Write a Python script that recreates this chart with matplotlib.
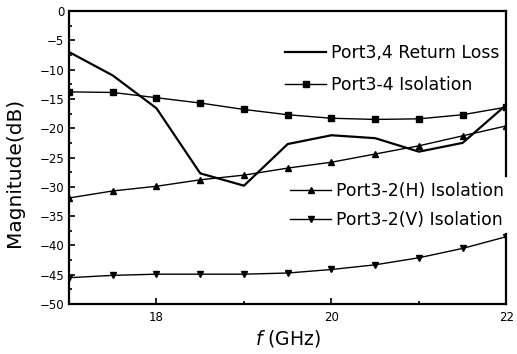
import matplotlib
matplotlib.use("Agg")
import matplotlib.pyplot as plt
from matplotlib.ticker import MultipleLocator

plt.rcParams['font.family'] = ['DejaVu Sans']
plt.rcParams['mathtext.fontset'] = 'dejavusans'

freq = [17.0, 17.5, 18.0, 18.5, 19.0, 19.5, 20.0, 20.5, 21.0, 21.5, 22.0]
return_loss = [-7.0, -11.0, -16.6, -27.7, -29.8, -22.7, -21.2, -21.7, -24.0, -22.5, -16.0]
iso_34 = [-13.8, -13.9, -14.8, -15.7, -16.8, -17.7, -18.3, -18.5, -18.4, -17.7, -16.4]
iso_32h = [-31.9, -30.7, -29.9, -28.8, -28.0, -26.8, -25.8, -24.4, -23.0, -21.3, -19.6]
iso_32v = [-45.5, -45.1, -44.9, -44.9, -44.9, -44.7, -44.1, -43.3, -42.1, -40.5, -38.5]

fig = plt.figure(figsize=(5.17, 3.54), dpi=100)
ax = fig.add_axes([0.1335, 0.141, 0.846, 0.828])

l1, = ax.plot(freq, return_loss, color='black', lw=1.6, label='Port3,4 Return Loss')
l2, = ax.plot(freq, iso_34, color='black', lw=1.0, marker='s', ms=4, label='Port3-4 Isolation')
l3, = ax.plot(freq, iso_32h, color='black', lw=1.0, marker='^', ms=4.5, label='Port3-2(H) Isolation')
l4, = ax.plot(freq, iso_32v, color='black', lw=1.0, marker='v', ms=4.5, label='Port3-2(V) Isolation')

ax.set_xlim(17, 22)
ax.set_ylim(-50, 0)
ax.xaxis.set_major_locator(MultipleLocator(2))
ax.xaxis.set_minor_locator(MultipleLocator(1))
ax.yaxis.set_major_locator(MultipleLocator(5))
ax.yaxis.set_minor_locator(MultipleLocator(2.5))
ax.tick_params(which='both', direction='in', labelsize=8.5, width=1.2)
ax.tick_params(which='major', length=4)
ax.tick_params(which='minor', length=2.5)
ax.tick_params(axis='x', pad=5)
for s in ax.spines.values():
    s.set_linewidth(1.6)

ax.set_ylabel('Magnitude(dB)', fontsize=14.5)
ax.yaxis.set_label_coords(-0.103, 0.45)
ax.set_xlabel(r'$f$ (GHz)', fontsize=13.5, labelpad=3)

legend_style = dict(fontsize=12.4, frameon=True, facecolor='white', edgecolor='none',
                    framealpha=1, handlelength=2.4, handletextpad=0.3, borderpad=0.25,
                    borderaxespad=0, loc='upper left', bbox_transform=fig.transFigure)
leg1 = ax.legend(handles=[l1, l2], bbox_to_anchor=(0.5427, 0.889),
                 labelspacing=0.82, **legend_style)
ax.add_artist(leg1)
ax.legend(handles=[l3, l4], bbox_to_anchor=(0.5524, 0.499),
          labelspacing=0.66, **legend_style)

fig.savefig('out.png', dpi=100)
